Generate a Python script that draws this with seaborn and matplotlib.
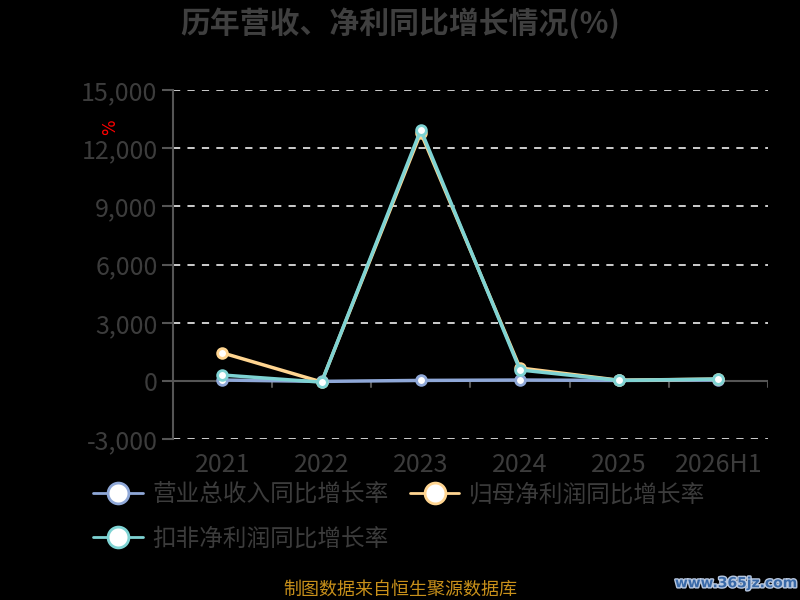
import matplotlib
matplotlib.use("Agg")
import matplotlib.pyplot as plt
import matplotlib.patheffects as pe
from matplotlib.lines import Line2D
import seaborn as sns
import pandas as pd

# --- data ---
years = ["2021", "2022", "2023", "2024", "2025", "2026H1"]
revenue_yoy = [50, -20, 30, 50, 30, 50]
parent_np_yoy = [1450, -50, 12800, 670, 40, 100]
deducted_np_yoy = [310, -60, 12950, 570, 30, 100]

series_names = ["营业总收入同比增长率", "归母净利润同比增长率", "扣非净利润同比增长率"]
colors = ["#8fa8d8", "#ffd591", "#7ed3d3"]

sns.set_theme(style="dark")
plt.rcParams['font.family'] = ['Noto Sans CJK SC', 'DejaVu Sans']

rows = []
for name, vals in zip(series_names, [revenue_yoy, parent_np_yoy, deducted_np_yoy]):
    for i, v in enumerate(vals):
        rows.append({"idx": i, "value": v, "series": name})
df = pd.DataFrame(rows)

fig = plt.figure(figsize=(8, 6), dpi=100, facecolor="black")
ax = fig.add_axes([0.216, 0.268, 0.744, 0.582])
ax.set_facecolor("black")

for name, col in zip(series_names, colors):
    sub = df[df["series"] == name]
    sns.lineplot(data=sub, x="idx", y="value", ax=ax, color=col, linewidth=2.5,
                 marker="o", markersize=7, markerfacecolor="white",
                 markeredgecolor=col, markeredgewidth=2, legend=False)

ax.set_xlim(-0.5, len(years) - 0.5)
ax.set_ylim(-3000, 15000)
ax.set_yticks(range(-3000, 15001, 3000))
ax.set_yticklabels([f"{v:,}" for v in range(-3000, 15001, 3000)])
ax.set_xticks(range(len(years)))
ax.set_xticklabels(years)
ax.set_xlabel("")
ax.set_ylabel("")

for s in ["top", "right", "bottom"]:
    ax.spines[s].set_visible(False)
ax.spines["left"].set_color("#555555")
ax.spines["left"].set_linewidth(1.5)

ax.grid(False)
for v in range(-3000, 15001, 3000):
    if v != 0:
        ax.axhline(v, color="#dddddd", linestyle=(0, (4, 4)), linewidth=1.3, zorder=0)
ax.axhline(0, color="#555555", linewidth=1.5, zorder=1)
for b in [x + 0.5 for x in range(len(years))]:
    ax.plot([b, b], [0, -330], color="#555555", linewidth=1.5, zorder=1)

ax.tick_params(axis="y", colors="#555555", labelcolor="#3c3c3c", labelsize=18,
               length=8, width=1.5, left=True, pad=3)
ax.tick_params(axis="x", colors="#555555", labelcolor="#3c3c3c", labelsize=18,
               length=0, bottom=False, pad=9)

fig.text(110 / 800, 1 - 127 / 600, "%", color="red", fontsize=12, rotation=90,
         ha="center", va="center", family="DejaVu Sans")

fig.text(0.5, 0.962, "历年营收、净利同比增长情况(%)", ha="center", va="center",
         fontsize=21.5, fontweight="bold", color="#3f3f3f")

handles = [Line2D([0], [0], color=c, linewidth=2, marker="o", markersize=15,
                  markerfacecolor="white", markeredgecolor=c, markeredgewidth=2)
           for c in colors]
order = [0, 2, 1]
leg = fig.legend([handles[i] for i in order], [series_names[i] for i in order],
                 loc="upper left", bbox_to_anchor=(0.09, 0.23),
                 ncol=2, frameon=False, fontsize=17, handlelength=2.1,
                 columnspacing=0.9, labelspacing=0.9, handletextpad=0.4)
for t in leg.get_texts():
    t.set_color("#3c3c3c")

fig.text(0.5, 0.017, "制图数据来自恒生聚源数据库", ha="center", va="center",
         fontsize=13, color="#c8901a")
fig.text(0.92, 0.028, "www.365jz.com", ha="center", va="center", fontsize=10,
         color="#3a6aa8", fontweight="bold", family="DejaVu Sans",
         path_effects=[pe.withStroke(linewidth=2, foreground="#b8c8e0")])

fig.savefig("out.png", dpi=100, facecolor="black")
